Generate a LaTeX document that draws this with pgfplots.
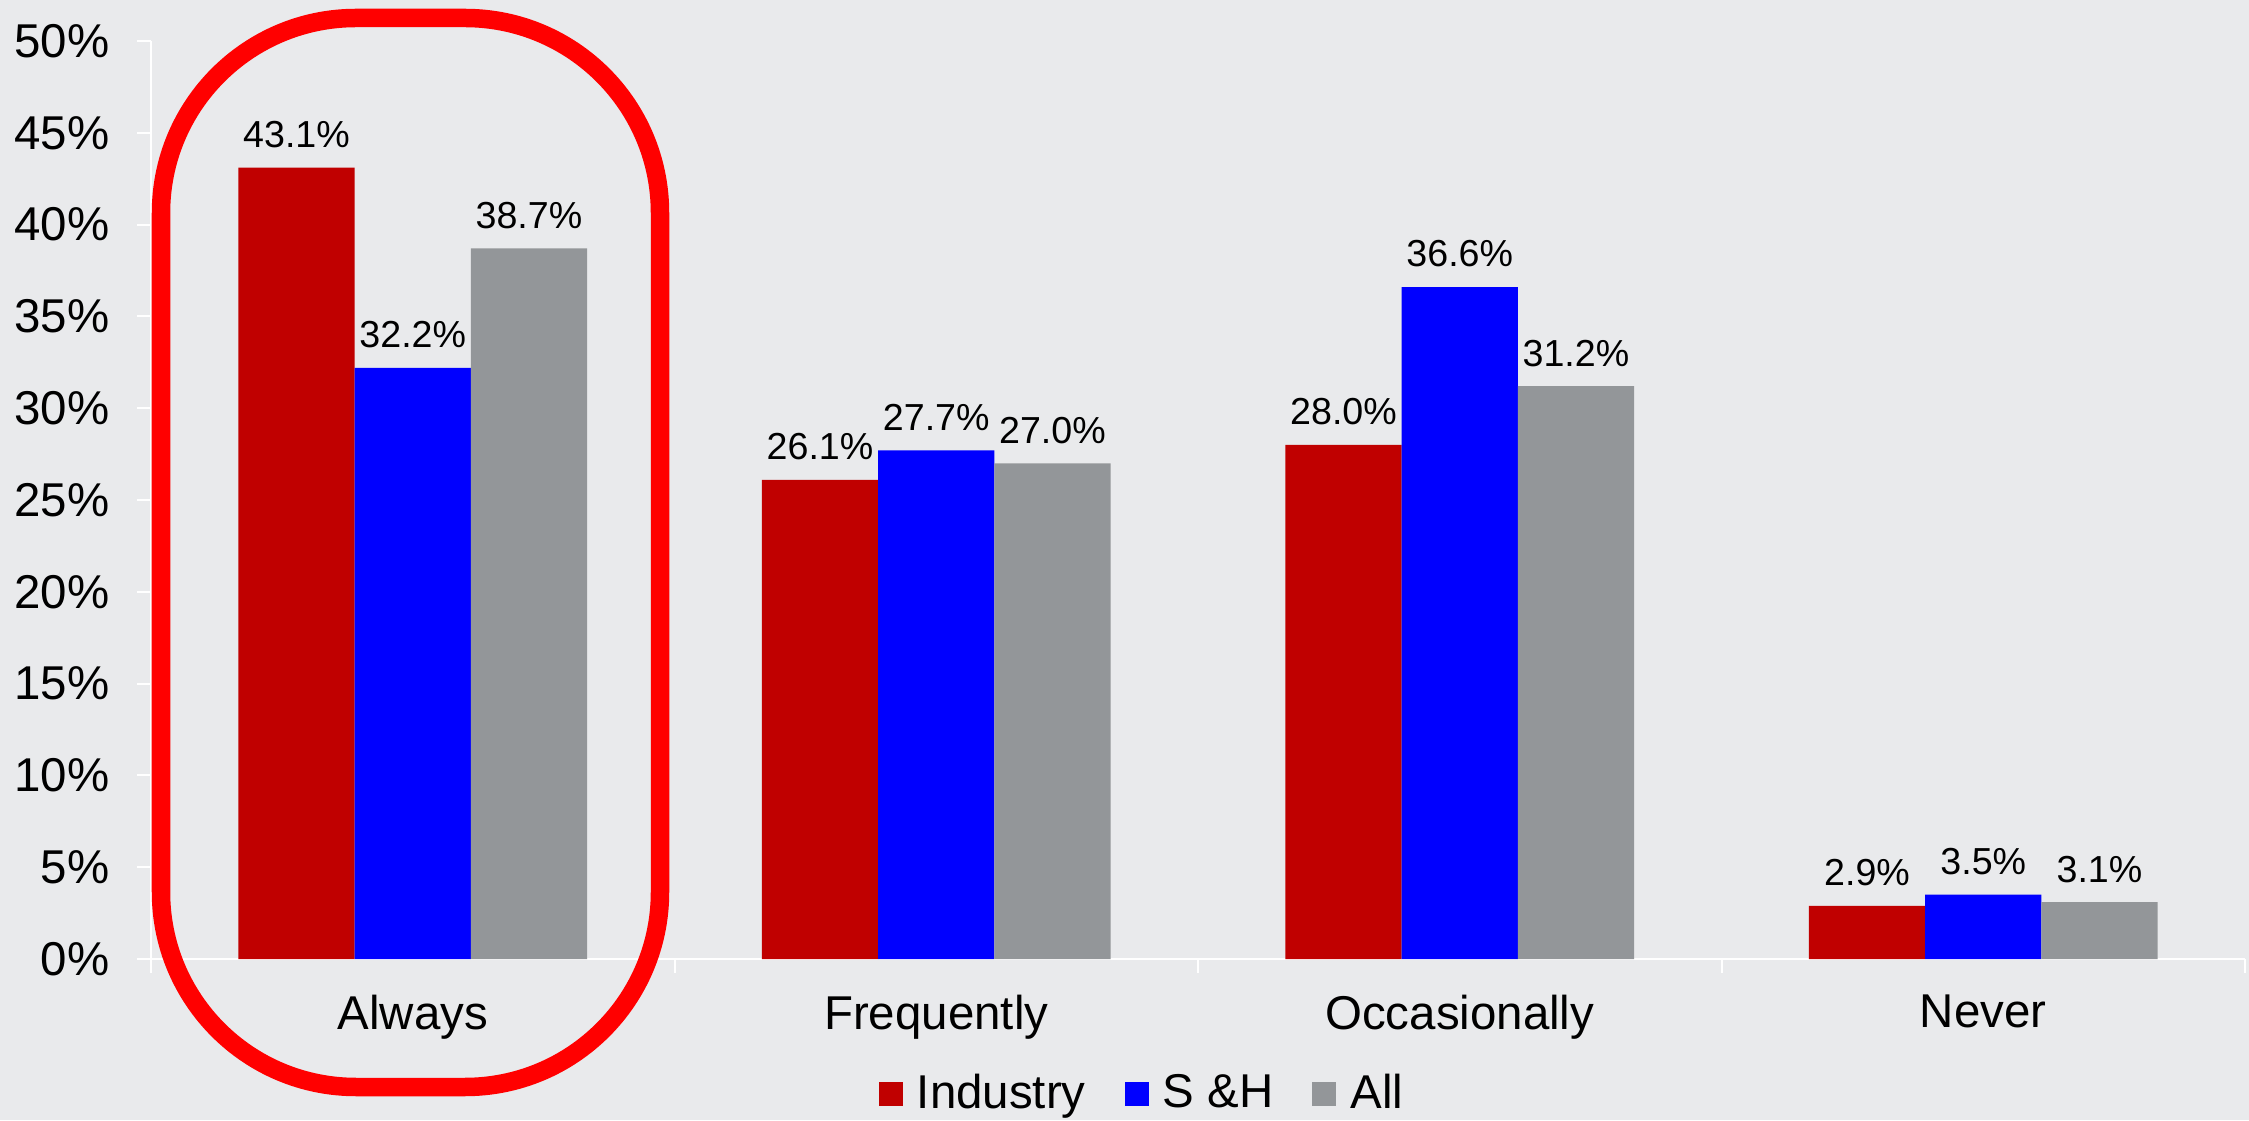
\documentclass[border=0pt]{standalone}
\usepackage{fontspec}
\setmainfont{Liberation Sans}
\usepackage{pgfplots}
\pgfplotsset{compat=1.18}
\pgfplotsset{/pgf/number format/assume math mode=true}
\definecolor{bg}{RGB}{233,234,236}
\definecolor{indred}{RGB}{192,0,0}
\definecolor{shblue}{RGB}{0,0,255}
\definecolor{allgrey}{RGB}{147,150,153}
\definecolor{ring}{RGB}{255,0,0}
\begin{document}
\begin{tikzpicture}
% background and page size (1px = 0.1mm, origin at the axis corner)
\fill[bg, use as bounding box] (-15.1mm,-16.1mm) rectangle (209.8mm,95.9mm);
\begin{axis}[
  at={(0,0)}, anchor=south west,
  scale only axis, width=209.4mm, height=91.8mm,
  xmin=-0.5, xmax=3.5, ymin=0, ymax=50,
  axis lines*=left,
  axis line style={white, line width=0.2mm},
  tick style={white, line width=0.2mm},
  tick align=outside,
  major tick length=1.4mm, minor tick length=1.4mm,
  every major x tick/.append style={draw=none},
  xtick={0,1,2,3},
  xticklabels={Always,Frequently,Occasionally,Never},
  minor xtick={-0.5,0.5,1.5,2.5,3.5},
  ytick={0,5,...,50},
  yticklabel={\pgfmathprintnumber{\tick}\%},
  tick label style={font=\fontsize{13.5}{16}\selectfont, black, inner sep=0pt},
  yticklabel style={xshift=-2.7mm},
  xticklabel style={yshift=-2.1mm},
  ybar, bar width=0.222,
  nodes near coords={\pgfmathprintnumber[fixed,fixed zerofill,precision=1]{\pgfplotspointmeta}\%},
  every node near coord/.append style={font=\fontsize{10.7}{13}\selectfont, black, anchor=south, inner sep=0pt, yshift=1.9mm},
  legend columns=-1,
  legend style={draw=none, fill=none, at={(0.4728,-0.147)}, anchor=center,
    font=\fontsize{13.5}{16}\selectfont, nodes={inner sep=0pt},
    /tikz/every odd column/.style={column sep=1.4mm},
    /tikz/every even column/.style={column sep=3.9mm}},
  legend image code/.code={\fill[#1] (0mm,-1.2mm) rectangle (2.4mm,1.2mm);},
]
\addplot[fill=indred, draw=none, bar shift=-0.222] coordinates {(0,43.1) (1,26.1) (2,28.0) (3,2.9)};
\addplot[fill=shblue, draw=none, bar shift=0] coordinates {(0,32.2) (1,27.7) (2,36.6) (3,3.5)};
\addplot[fill=allgrey, draw=none, bar shift=0.222] coordinates {(0,38.7) (1,27.0) (2,31.2) (3,3.1)};
\legend{Industry, S \&H, All}
\end{axis}
% highlight ring round "Always"
\draw[ring, line width=1.85mm, rounded corners=19.5mm] (1.0mm,-12.8mm) rectangle (50.9mm,94.1mm);
\end{tikzpicture}
\end{document}
